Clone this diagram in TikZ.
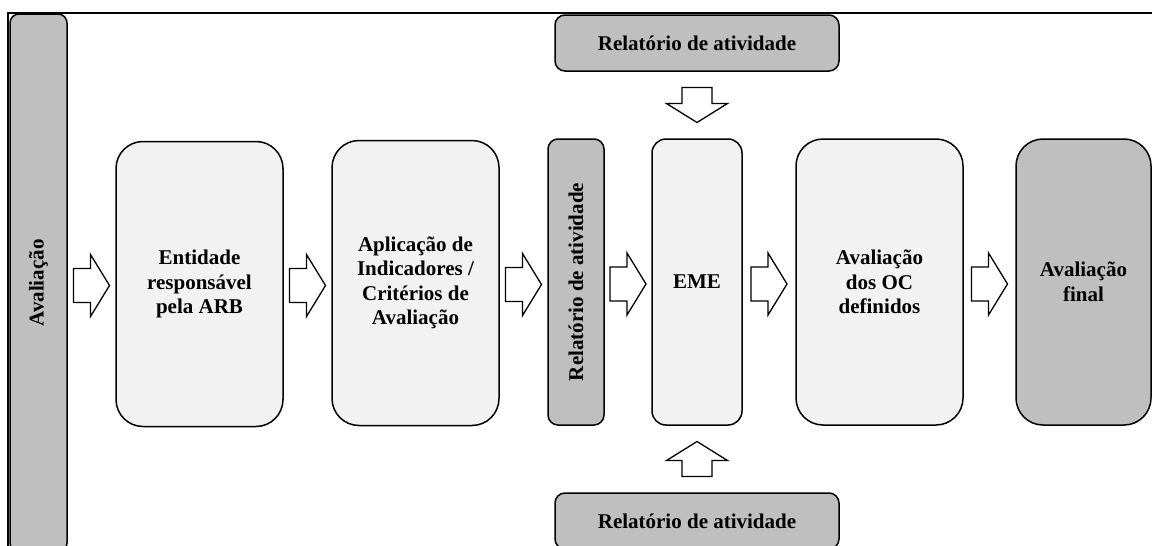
\documentclass[tikz,border=0pt]{standalone}
\usepackage{fontspec}
\setmainfont{Liberation Serif}
\usetikzlibrary{calc}
\definecolor{lightbox}{HTML}{F2F2F2}
\definecolor{darkbox}{HTML}{BFBFBF}
\tikzset{
  box/.style={draw=black,line width=1.5pt,align=center,inner sep=0pt,
    font=\fontsize{21}{24.5}\selectfont\bfseries},
  lightbox/.style={box,fill=lightbox},
  darkbox/.style={box,fill=darkbox},
  vlabel/.style={rotate=90,inner sep=0pt,font=\fontsize{21}{24.5}\selectfont\bfseries},
  blk/.style={draw=black,line width=1.3pt,fill=white,line join=miter},
  rarr/.pic={\draw[blk] (-18,-17) -- (-1,-17) -- (-1,-31) -- (18,0) -- (-1,31) -- (-1,17) -- (-18,17) -- cycle;},
  darr/.pic={\draw[blk] (-15,-17.5) -- (15,-17.5) -- (15,-1.5) -- (30.5,-1.5) -- (0,17.5) -- (-30.5,-1.5) -- (-15,-1.5) -- cycle;},
  uarr/.pic={\draw[blk] (-15,17.5) -- (15,17.5) -- (15,1.5) -- (30.5,1.5) -- (0,-17.5) -- (-30.5,1.5) -- (-15,1.5) -- cycle;}
}
\begin{document}
\begin{tikzpicture}[x=1pt,y=-1pt]
\useasboundingbox (0,0) rectangle (1152,546);
\clip (0,0) rectangle (1152,546);
% frame
\draw[line width=1.8pt] (8,560) -- (8,13) -- (1160,13);
% left bar
\node[darkbox,rounded corners=9pt,minimum width=57pt,minimum height=538pt] (bar) at (38.5,283) {};
\node[vlabel] (barlbl) at (bar.center) {Avaliação};
% main boxes
\node[lightbox,rounded corners=27pt,minimum width=167pt,minimum height=285pt] (b1) at (199.5,284) {Entidade\\responsável\\pela ARB};
\node[lightbox,rounded corners=27pt,minimum width=167pt,minimum height=285pt] (b2) at (415.5,283) {Aplicação de\\Indicadores /\\Critérios de\\Avaliação};
\node[darkbox,rounded corners=10pt,minimum width=56pt,minimum height=286pt] (rv) at (576,282) {};
\node[vlabel] (rvlbl) at (rv.center) {Relatório de atividade};
\node[lightbox,rounded corners=14pt,minimum width=90pt,minimum height=286pt] (eme) at (697,282) {EME};
\node[lightbox,rounded corners=27pt,minimum width=167pt,minimum height=286pt] (oc) at (879.5,282) {Avaliação\\dos OC\\definidos};
\node[darkbox,rounded corners=27pt,minimum width=135pt,minimum height=286pt] (fin) at (1083.5,282) {Avaliação\\final};
% top and bottom report boxes
\node[darkbox,rounded corners=10pt,minimum width=284pt,minimum height=56pt] (rtop) at (697,43) {Relatório de atividade};
\node[darkbox,rounded corners=10pt,minimum width=284pt,minimum height=56pt] (rbot) at (697,521) {Relatório de atividade};
% arrows
\pic at ($($(bar.east)!0.5!(b1.west)$)+(0,2)$) {rarr};
\pic at ($($(b1.east)!0.5!(b2.west)$)+(0,2)$) {rarr};
\pic at ($($(b2.east)!0.5!(rv.west)$)+(0,2)$) {rarr};
\pic at ($($(rv.east)!0.5!(eme.west)$)+(0,2)$) {rarr};
\pic at ($($(eme.east)!0.5!(oc.west)$)+(0,2)$) {rarr};
\pic at ($($(oc.east)!0.5!(fin.west)$)+(0,2)$) {rarr};
\pic at ($(rtop.south)!0.5!(eme.north)$) {darr};
\pic at ($(eme.south)!0.5!(rbot.north)$) {uarr};
\end{tikzpicture}
\end{document}
